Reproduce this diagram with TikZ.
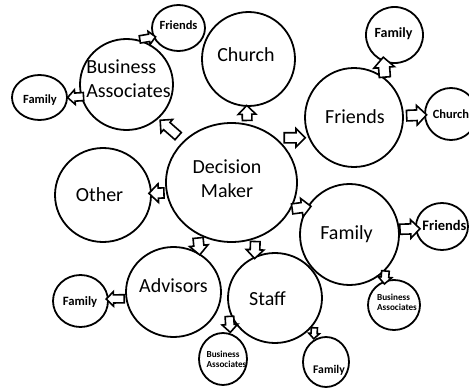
\documentclass[tikz,border=0pt]{standalone}
\usepackage{fontspec}
\setmainfont{Carlito}
\usetikzlibrary{shapes.geometric,shapes.arrows}
\begin{document}
\begin{tikzpicture}[x=1pt,y=-1pt,
 bub/.style={ellipse, draw, line width=1.8pt, inner sep=0pt},
 big/.style={font=\fontsize{20}{23.5}\selectfont, inner sep=0pt, anchor=base, align=center},
 sml/.style={font=\bfseries\fontsize{12.5}{14}\selectfont, inner sep=0pt, anchor=base},
 tiny/.style={font=\bfseries\fontsize{9.2}{10}\selectfont, inner sep=0pt, anchor=base, align=left},
 barrow/.style 2 args={single arrow, draw, fill=white, line width=1.6pt,
   inner xsep=0pt, inner ysep=#2, minimum width=0pt, minimum height=#1,
   single arrow head extend=#2, single arrow head indent=0pt,
   sloped, allow upside down, midway}]
\useasboundingbox (0,0) rectangle (469,388);
% bubbles
\node[bub, minimum width=131pt, minimum height=119pt] (dm) at (231.5,182.5) {};
\node[bub, minimum width=93pt, minimum height=94pt] (ch) at (248.5,59) {};
\node[bub, minimum width=93pt, minimum height=91pt] (ba) at (126.5,84.5) {};
\node[bub, minimum width=53pt, minimum height=46pt] (baf) at (178.5,28) {};
\node[bub, minimum width=55pt, minimum height=45pt] (bafa) at (39.5,97.5) {};
\node[bub, minimum width=96pt, minimum height=94pt] (ot) at (103,195) {};
\node[bub, minimum width=98pt, minimum height=99pt] (fr) at (354,117.5) {};
\node[bub, minimum width=57pt, minimum height=56pt] (frfa) at (394.5,35) {};
\node[bub, minimum width=52pt, minimum height=52pt] (frch) at (451,114) {};
\node[bub, minimum width=99pt, minimum height=101pt] (fa) at (349.5,234.5) {};
\node[bub, minimum width=52pt, minimum height=47pt] (fafr) at (442,226.5) {};
\node[bub, minimum width=52pt, minimum height=50pt] (faba) at (394,305) {};
\node[bub, minimum width=94pt, minimum height=90pt] (st) at (275,298) {};
\node[bub, minimum width=46pt, minimum height=50pt] (stfa) at (326,362) {};
\node[bub, minimum width=48pt, minimum height=52pt] (stba) at (223,359) {};
\node[bub, minimum width=95pt, minimum height=90pt] (ad) at (173.5,292) {};
\node[bub, minimum width=55pt, minimum height=52pt] (adfa) at (80.5,301) {};
% texts (base = baseline of the last line)
\node[big] (dmt) at (227,197) {Decision\\Maker};
\node[big] (cht) at (246,61) {Church};
\node[big, align=left] (bat) at (128.5,97) {Business\\Associates};
\node[big] (ott) at (99.5,201) {Other};
\node[big] (frt) at (355,123) {Friends};
\node[big] (fat) at (346.5,239) {Family};
\node[big] (stt) at (267.5,305) {Staff};
\node[big] (adt) at (173.5,292) {Advisors};
\node[sml] (baft) at (178.5,29.3) {Friends};
\node[sml] (bafat) at (40,103) {Family};
\node[sml, font=\bfseries\fontsize{14}{16}\selectfont] (frfat) at (393.5,37) {Family};
\node[sml] (frcht) at (451,118) {Church};
\node[sml, font=\bfseries\fontsize{14.5}{16}\selectfont] (fafrt) at (444.5,230) {Friends};
\node[sml, font=\bfseries\fontsize{11.7}{14}\selectfont] (stfat) at (329,373) {Family};
\node[sml, font=\bfseries\fontsize{12.7}{14}\selectfont] (adfat) at (80,305) {Family};
\node[tiny] (fabat) at (397,310) {Business\\Associates};
\node[tiny] (stbat) at (226.5,367.5) {Business\\Associates};
% arrows
\path (dm.75) -- node[barrow={15pt}{4pt}]{} (ch.268);
\path (dm.139.5) -- node[barrow={24pt}{4pt}]{} (ba.313);
\path (dm.45.6) -- node[barrow={21pt}{4.25pt}]{} (fr.204.5);
\path (dm.189.2) -- node[barrow={15pt}{4.25pt}]{} (ot.2.4);
\path (dm.336.7) -- node[barrow={19pt}{4.25pt}]{} (fa.147.8);
\path (dm.237.8) -- node[barrow={17pt}{4.25pt}]{} (ad.56.1);
\path (dm.293) -- node[barrow={17pt}{4pt}]{} (st.116.2);
\path (ba.75) -- node[barrow={16pt}{2.9pt}]{} (baf.200.2);
\path (ba.195.8) -- node[barrow={16pt}{3.25pt}, pos=0.25]{} (bafa.0);
\path (fr.52.7) -- node[barrow={20pt}{4.75pt}]{} (frfa.248);
\path (fr.2.9) -- node[barrow={20pt}{4.5pt}]{} (frch.182);
\path (fa.6.4) -- node[barrow={20pt}{4.25pt}]{} (fafr.185.5);
\path (fa.315.2) -- node[barrow={13pt}{3pt}]{} (faba.111);
\path (st.196.1) -- node[barrow={16pt}{3.5pt}]{} (stba.74.3);
\path (st.327.2) -- node[barrow={11pt}{2.25pt}]{} (stfa.119.4);
\path (ad.188.5) -- node[barrow={18pt}{3.25pt}]{} (adfa.4.2);
\end{tikzpicture}
\end{document}
